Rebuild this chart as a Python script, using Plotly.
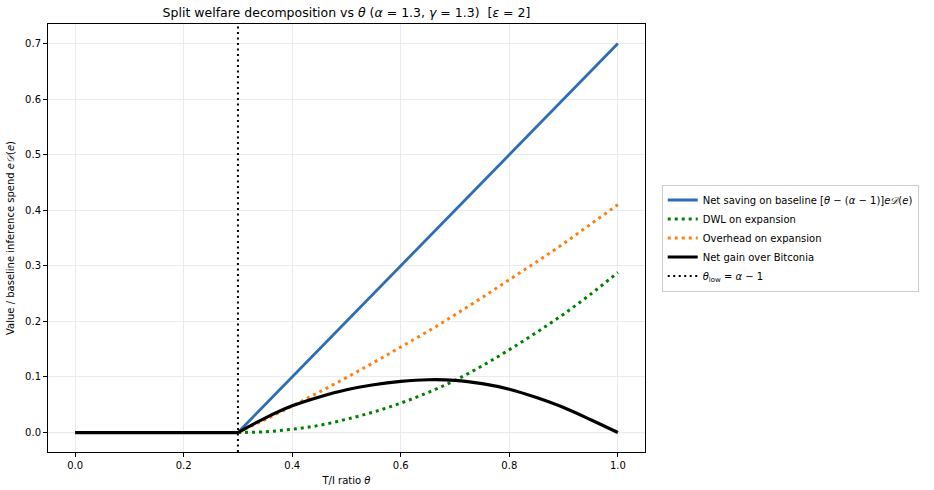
import plotly.graph_objects as go

# --- data ---
theta_flat = [0.0, 0.1, 0.2, 0.3]
flat_zero = [0.0, 0.0, 0.0, 0.0]
theta = [0.3, 0.35, 0.4, 0.45, 0.5, 0.55, 0.6, 0.65, 0.7, 0.75,
         0.8, 0.85, 0.9, 0.95, 1.0]
net_saving = [0.0, 0.05, 0.10, 0.15, 0.20, 0.25, 0.30, 0.35, 0.40,
              0.45, 0.50, 0.55, 0.60, 0.65, 0.70]
dwl = [0.0, 0.0015, 0.006, 0.013, 0.024, 0.037, 0.053, 0.072, 0.094,
       0.120, 0.149, 0.180, 0.213, 0.249, 0.288]
overhead = [0.0, 0.0234, 0.0478, 0.073, 0.099, 0.126, 0.154, 0.182,
            0.212, 0.243, 0.275, 0.307, 0.340, 0.375, 0.410]
net_gain = [0.0, 0.026, 0.048, 0.064, 0.077, 0.086, 0.092, 0.095,
            0.094, 0.088, 0.078, 0.063, 0.045, 0.023, 0.0]
theta_low = 0.3
x_range = [-0.05, 1.05]
y_range = [-0.035, 0.735]
x_ticks = [0.0, 0.2, 0.4, 0.6, 0.8, 1.0]
y_ticks = [0.0, 0.1, 0.2, 0.3, 0.4, 0.5, 0.6, 0.7]

FONT = "DejaVu Sans"
BLUE = "#2c6db3"

fig = go.Figure()
# flat (zero) part below theta_low
fig.add_trace(go.Scatter(
    x=theta_flat, y=flat_zero, mode="lines", showlegend=False, hoverinfo="skip",
    line=dict(color=BLUE, width=2.8)))
fig.add_trace(go.Scatter(
    x=theta, y=net_saving, mode="lines",
    name="Net saving on baseline [<i>θ</i> − (<i>α</i> − 1)]<i>e𝒟</i>(<i>e</i>)",
    line=dict(color=BLUE, width=2.8)))
fig.add_trace(go.Scatter(
    x=theta, y=dwl, mode="lines", name="DWL on expansion",
    line=dict(color="#008000", width=3, dash="3px,4px", shape="spline", smoothing=1)))
fig.add_trace(go.Scatter(
    x=theta, y=overhead, mode="lines", name="Overhead on expansion",
    line=dict(color="#ff7f0e", width=3, dash="3px,4px", shape="spline", smoothing=1)))
fig.add_trace(go.Scatter(
    x=theta_flat, y=flat_zero, mode="lines", showlegend=False, hoverinfo="skip",
    line=dict(color="black", width=3.2)))
fig.add_trace(go.Scatter(
    x=theta, y=net_gain, mode="lines", name="Net gain over Bitconia",
    line=dict(color="black", width=3.2, shape="spline", smoothing=1)))
fig.add_trace(go.Scatter(
    x=[theta_low, theta_low], y=y_range, mode="lines",
    name="<i>θ</i><sub>low</sub> = <i>α</i> − 1",
    line=dict(color="black", width=2, dash="2px,3.5px")))

# horizontal zero line
fig.add_shape(type="line", xref="paper", yref="y", x0=0, x1=1, y0=0, y1=0,
              line=dict(color="#7f7f7f", width=1), layer="below")

axis_common = dict(
    showline=True, linecolor="black", linewidth=1, mirror=True,
    ticks="outside", ticklen=4, tickwidth=1, tickcolor="black",
    showgrid=True, gridcolor="#ebebeb", gridwidth=1, zeroline=False,
    automargin=False,
    tickfont=dict(family=FONT, size=10, color="black"),
)

fig.update_layout(
    width=934, height=490,
    margin=dict(l=48, r=289, t=24, b=38),
    paper_bgcolor="white", plot_bgcolor="white",
    font=dict(family=FONT, size=10, color="black"),
    title=dict(
        text="Split welfare decomposition vs <i>θ</i> (<i>α</i> = 1.3, <i>γ</i> = 1.3)  [<i>ε</i> = 2]",
        x=(48 + 645) / 2 / 934, xanchor="center", y=0.975, yanchor="middle",
        font=dict(family=FONT, size=12.5, color="black")),
    xaxis=dict(range=x_range, tickvals=x_ticks, tickformat=".1f",
               title=dict(text="T/I ratio <i>θ</i>", font=dict(family=FONT, size=10), standoff=6),
               **axis_common),
    yaxis=dict(range=y_range, tickvals=y_ticks, tickformat=".1f",
               title=dict(text="Value / baseline inference spend <i>e𝒟</i>(<i>e</i>)",
                          font=dict(family=FONT, size=10), standoff=8),
               **axis_common),
    legend=dict(x=1.028, xanchor="left", y=0.5, yanchor="middle",
                bordercolor="#cccccc", borderwidth=1, bgcolor="white",
                font=dict(family=FONT, size=10, color="black"),
                tracegroupgap=0, itemwidth=30),
    showlegend=True,
)

fig.write_html("out.html")
